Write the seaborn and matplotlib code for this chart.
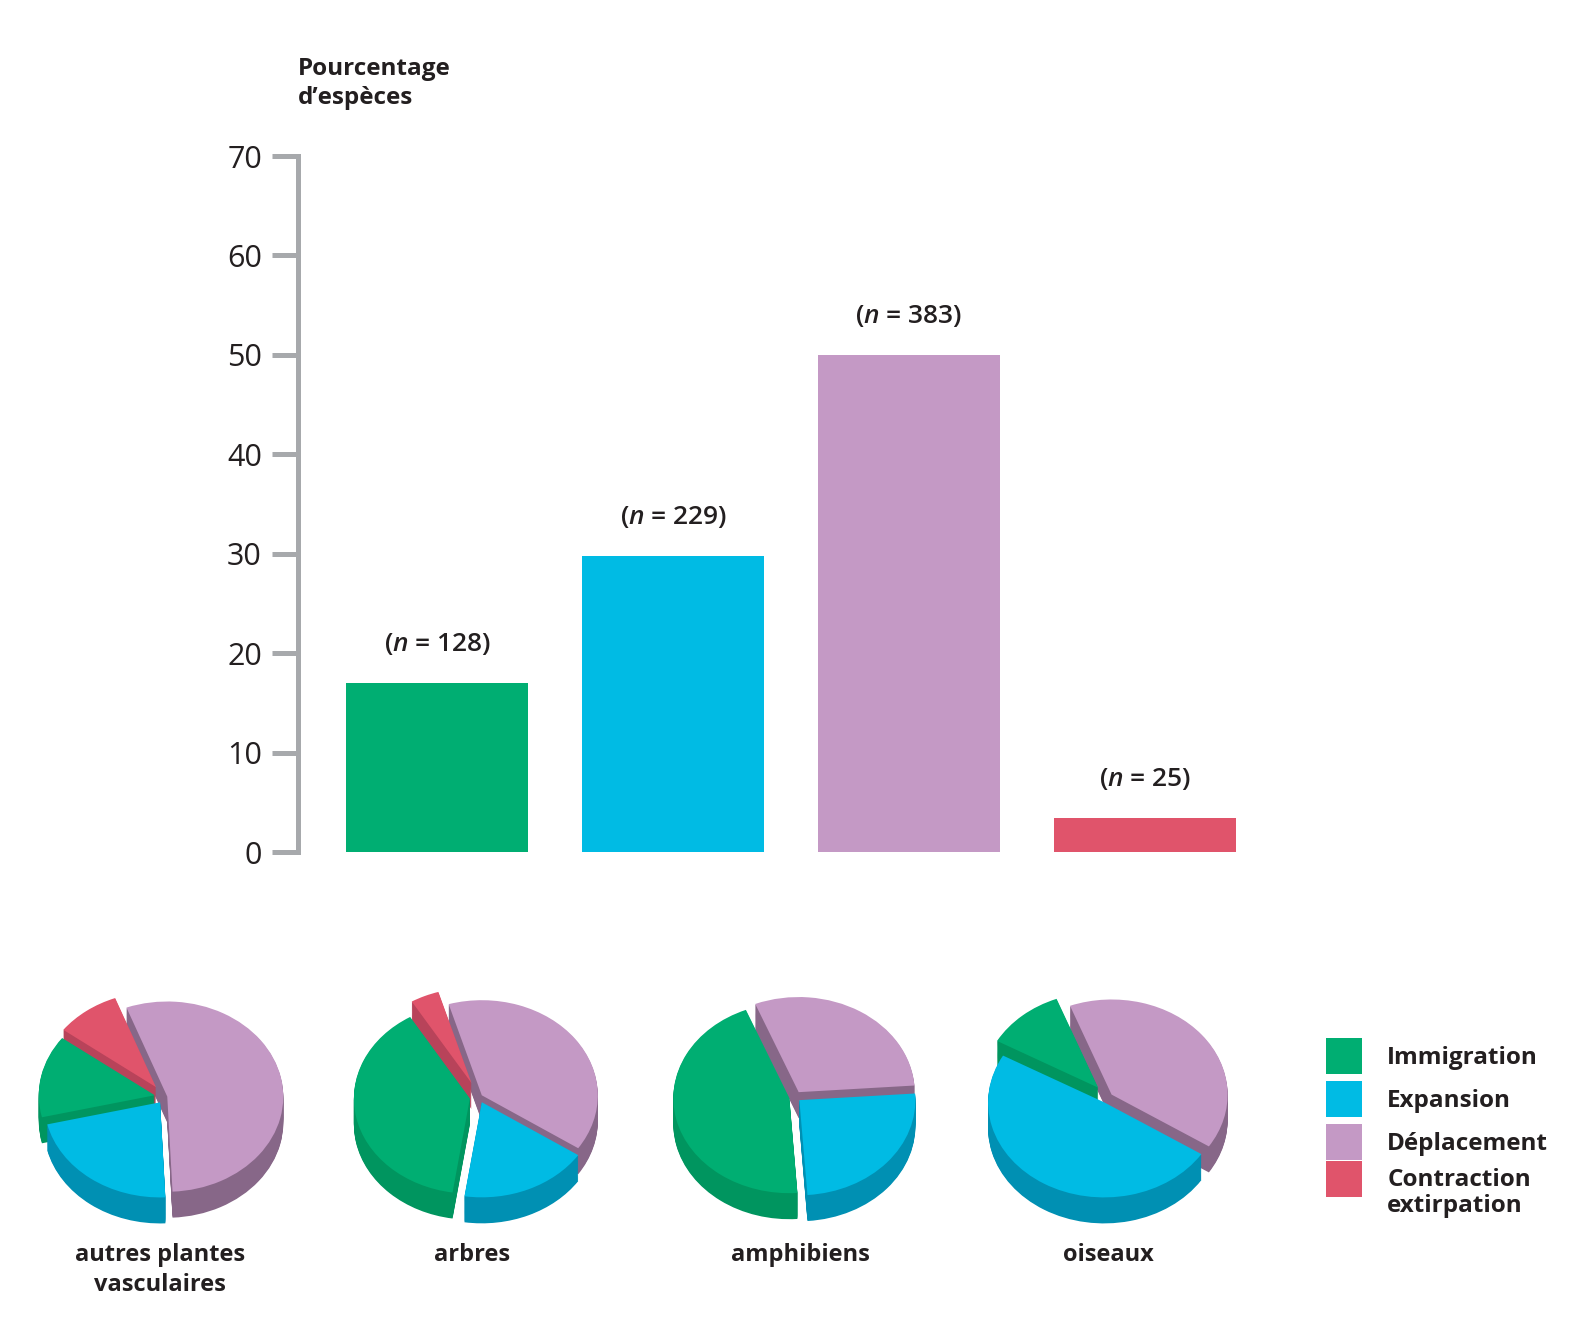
import matplotlib
matplotlib.use("Agg")
import matplotlib.pyplot as plt
import seaborn as sns
from matplotlib.patches import Patch, Rectangle
from matplotlib.legend_handler import HandlerPatch

# ---------------- data ----------------
categories = ["Immigration", "Expansion", "Déplacement", "Contraction\nextirpation"]
bar_values = [17.0, 29.8, 50.0, 3.4]
bar_n = [128, 229, 383, 25]
y_ticks = [0, 10, 20, 30, 40, 50, 60, 70]
y_label = "Pourcentage\nd’espèces"

pie_groups = ["autres plantes\nvasculaires", "arbres", "amphibiens", "oiseaux"]
pie_immigration = [14, 39, 45, 11]
pie_expansion = [22, 18, 25, 49]
pie_deplacement = [55, 39, 30, 40]
pie_contraction = [9, 4, 0, 0]

# ---------------- style ----------------
top_colors = ["#00ae72", "#00bbe4", "#c499c5", "#e0546b"]
side_colors = ["#00955f", "#0090b3", "#876788", "#b8435a"]
text_color = "#231f20"
axis_grey = "#a7a9ac"

sns.set_theme(style="white")
plt.rcParams["font.family"] = ["Open Sans", "DejaVu Sans"]
plt.rcParams["mathtext.fontset"] = "custom"
plt.rcParams["mathtext.rm"] = "Open Sans"
plt.rcParams["mathtext.it"] = "Open Sans:italic:semibold"
plt.rcParams["mathtext.bf"] = "Open Sans:bold"
plt.rcParams["text.color"] = text_color

W, H = 1575, 1337
fig = plt.figure(figsize=(W / 100, H / 100), dpi=100)


def fx(px):
    return px / W


def fy(py):
    return 1 - py / H


# ---------------- bar chart ----------------
ax_left, ax_right = 298, 1263
ax_top, ax_bot = 156, 852
ax = fig.add_axes([fx(ax_left), fy(ax_bot), fx(ax_right - ax_left), (ax_bot - ax_top) / H])
sns.barplot(x=categories, y=bar_values, hue=categories, palette=top_colors,
            legend=False, width=0.77, saturation=1, ax=ax, linewidth=0)
ax.set_xlim(-0.59, 3.5)
ax.set_ylim(0, 70)
ax.set_yticks(y_ticks)
ax.set_yticklabels([str(t) for t in y_ticks], fontsize=22, color=text_color)
ax.set_xticks([])
ax.set_xlabel("")
ax.set_ylabel("")
for s in ["top", "right", "bottom"]:
    ax.spines[s].set_visible(False)
ax.spines["left"].set_color(axis_grey)
ax.spines["left"].set_linewidth(3.6)
ax.spines["left"].set_bounds(0, 70)
ax.spines["left"].set_capstyle("projecting")
ax.tick_params(axis="y", length=19, width=3.6, color=axis_grey, pad=7, direction="out", left=True)
ax.patch.set_alpha(0)

for i, (v, n) in enumerate(zip(bar_values, bar_n)):
    ax.annotate(r"($\mathit{n}$ = %d)" % n, xy=(i, v), xytext=(0, 28),
                textcoords="offset points", ha="center", va="center",
                fontsize=19, fontweight="semibold", color=text_color)

fig.text(fx(298), fy(57), y_label, ha="left", va="top", fontsize=17.5,
         fontweight="bold", linespacing=1.28, color=text_color)

# ---------------- 3D-looking pies ----------------
pie_centers_x = [165, 479, 795, 1108]
pie_center_y = 1097
radius_px = 116
squash = 0.82
thick_px = 26
start_angles = [143, 121, 112, 111]
explodes = [[0.09, 0.07, 0.02, 0.13],
            [0.08, 0.06, 0.03, 0.16],
            [0.05, 0.05, 0.06, 0.0],
            [0.13, 0.065, 0.04, 0.0]]

box = 320
for k in range(4):
    vals = [pie_immigration[k], pie_expansion[k], pie_deplacement[k], pie_contraction[k]]
    cx = pie_centers_x[k]
    pax = fig.add_axes([fx(cx - box / 2), fy(pie_center_y + box / 2), box / W, box / H])
    unit_y = radius_px * squash
    dz_total = thick_px / unit_y
    nlay = 28
    for j in range(nlay, 0, -1):
        dz = dz_total * j / nlay
        pax.pie(vals, explode=explodes[k], colors=side_colors, startangle=start_angles[k],
                counterclock=True, center=(0, -dz), radius=1,
                wedgeprops=dict(linewidth=0, antialiased=True), normalize=True)
    pax.pie(vals, explode=explodes[k], colors=top_colors, startangle=start_angles[k],
            counterclock=True, center=(0, 0), radius=1,
            wedgeprops=dict(linewidth=0, antialiased=True), normalize=True)
    pax.set_aspect("auto")
    pax.set_xlim(-box / 2 / radius_px, box / 2 / radius_px)
    pax.set_ylim(-box / 2 / unit_y, box / 2 / unit_y)
    pax.axis("off")

label_x = [160, 472, 800, 1108]
for k, name in enumerate(pie_groups):
    fig.text(fx(label_x[k]), fy(1243), name, ha="center", va="top", fontsize=17,
             fontweight="bold", linespacing=1.32, color=text_color)

# ---------------- legend ----------------
leg_fs = 17.5
line_shift_pt = 10.8


def shifted_square(legend, orig_handle, xdescent, ydescent, width, height, fontsize):
    return Rectangle((-xdescent, -ydescent + line_shift_pt), width, height)


handles = [Patch(facecolor=c, edgecolor="none") for c in top_colors]
hmap = {handles[3]: HandlerPatch(patch_func=shifted_square)}
leg = fig.legend(handles, categories, loc="upper left", bbox_to_anchor=(fx(1326), fy(1038)),
                 frameon=False, prop=dict(weight="bold", size=leg_fs),
                 handlelength=1.486, handleheight=1.91, handletextpad=1.03,
                 labelspacing=0.29, borderpad=0, borderaxespad=0, handler_map=hmap)
for t in leg.get_texts():
    t.set_linespacing(1.12)

fig.savefig("out.png", dpi=100)
